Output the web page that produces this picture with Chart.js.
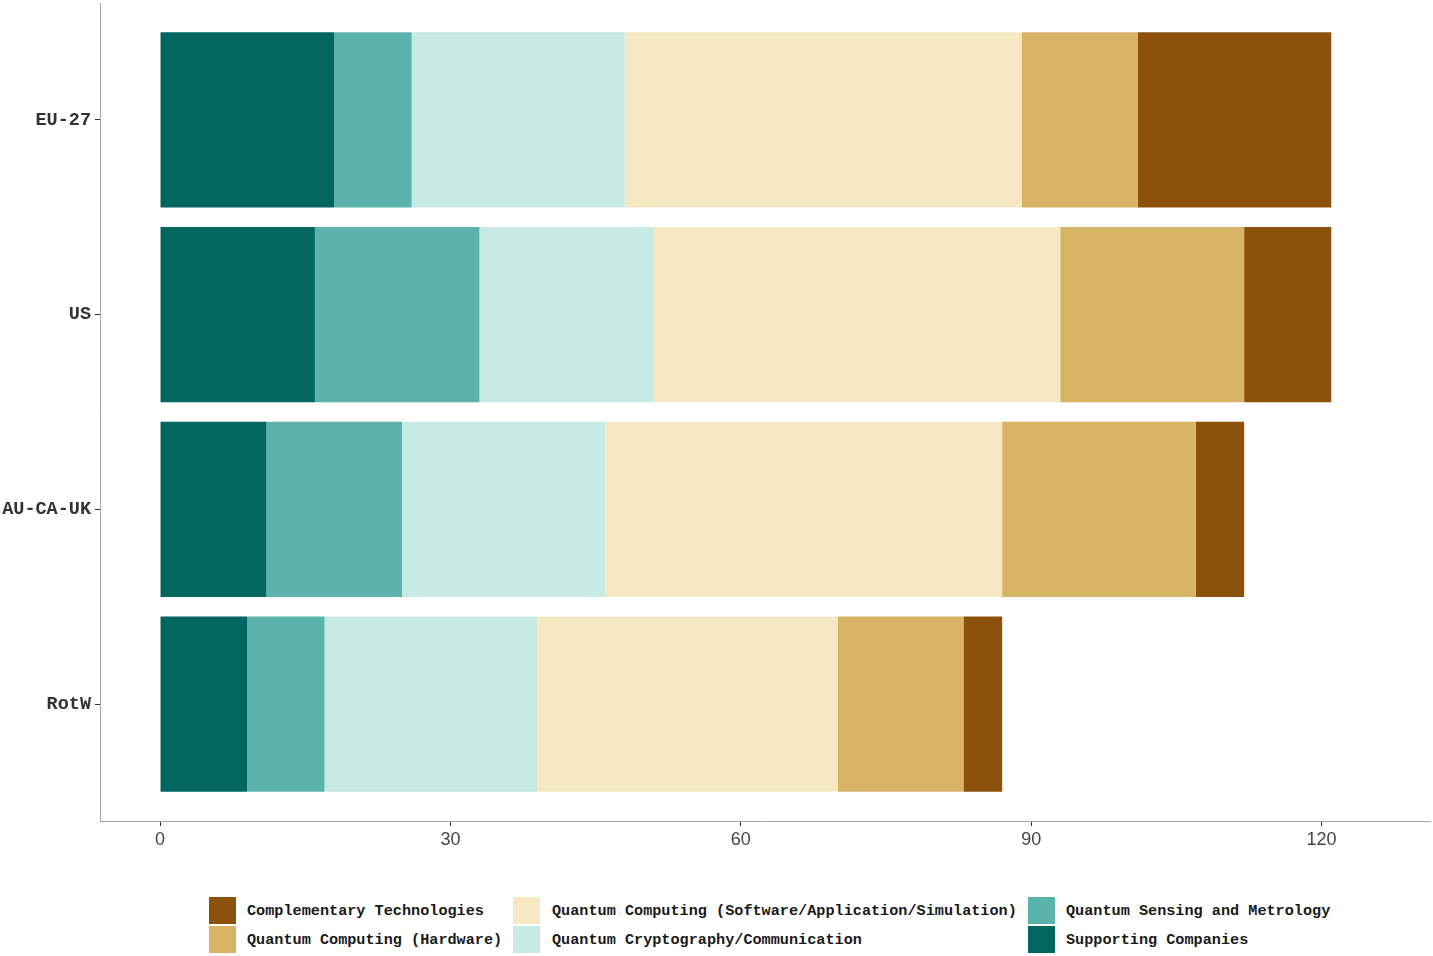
<!DOCTYPE html>
<html>
<head>
<meta charset="utf-8">
<script src="https://cdn.jsdelivr.net/npm/chart.js@4/dist/chart.umd.min.js"></script>
<style>
  body { margin: 0; background: #fff; }
  #wrap { position: absolute; left: 0; top: 0; width: 1433px; height: 870px; }
  #legend { position: absolute; left: 0; top: 896px; width: 1433px; height: 60px;
            font-family: "Liberation Mono", monospace; font-weight: bold; font-size: 15.2px; color: #1a1a1a; }
  .item { position: absolute; height: 27px; line-height: 27px; white-space: nowrap; }
  .key { position: absolute; left: 0; top: 0; width: 27px; height: 27px; }
  .lbl { position: absolute; top: 1px; }
</style>
</head>
<body>
<div id="wrap"><canvas id="chart"></canvas></div>
<div id="legend"></div>
<script>
// regions, top to bottom
var categories = ['EU-27', 'US', 'AU-CA-UK', 'RotW'];

// series, in stacking order (left to right)
var supporting    = [18, 16, 11, 9];
var sensing       = [8, 17, 14, 8];
var cryptography  = [22, 18, 21, 22];
var software      = [41, 42, 41, 31];
var hardware      = [12, 19, 20, 13];
var complementary = [20, 9, 5, 4];

var xTicks = [0, 30, 60, 90, 120];

var series = [
  { label: 'Supporting Companies', data: supporting, color: '#01665e' },
  { label: 'Quantum Sensing and Metrology', data: sensing, color: '#5ab4ac' },
  { label: 'Quantum Cryptography/Communication', data: cryptography, color: '#c7eae5' },
  { label: 'Quantum Computing (Software/Application/Simulation)', data: software, color: '#f6e8c3' },
  { label: 'Quantum Computing (Hardware)', data: hardware, color: '#d8b365' },
  { label: 'Complementary Technologies', data: complementary, color: '#8c510a' }
];

var datasets = series.map(function (s) {
  return {
    label: s.label,
    data: s.data.map(function (v, i) { return { x: v, y: i + 1 }; }),
    backgroundColor: s.color,
    borderWidth: 0,
    barPercentage: 0.9,
    categoryPercentage: 1
  };
});

var ctx = document.getElementById('chart');
var chart = new Chart(ctx, {
  type: 'bar',
  data: { datasets: datasets },
  options: {
    indexAxis: 'y',
    responsive: true,
    maintainAspectRatio: false,
    animation: false,
    layout: { padding: { top: 3, right: 3, left: 0, bottom: 0 } },
    plugins: { legend: { display: false }, tooltip: { enabled: false } },
    scales: {
      x: {
        type: 'linear',
        stacked: true,
        min: -6.2,
        max: 131.2,
        afterBuildTicks: function (s) { s.ticks = xTicks.map(function (v) { return { value: v }; }); },
        afterFit: function (s) { s.height = 49; s.paddingLeft = 0; s.paddingRight = 0; },
        grid: { drawOnChartArea: false, drawTicks: true, tickLength: 5, tickColor: '#333', tickWidth: 1 },
        border: { display: true, color: '#a6a6a6', width: 1 },
        ticks: { padding: 3, color: '#444', font: { family: 'Liberation Sans', size: 18 } }
      },
      y: {
        type: 'linear',
        stacked: true,
        reverse: true,
        offset: false,
        min: 0.4,
        max: 4.6,
        afterBuildTicks: function (s) { s.ticks = categories.map(function (c, i) { return { value: i + 1 }; }); },
        afterFit: function (s) { s.width = 100; s.paddingTop = 0; s.paddingBottom = 0; },
        grid: { offset: false, drawOnChartArea: false, drawTicks: true, tickLength: 5, tickColor: '#333', tickWidth: 1 },
        border: { display: true, color: '#a6a6a6', width: 1 },
        ticks: {
          autoSkip: false,
          padding: 4,
          color: '#333',
          font: { family: 'Liberation Mono', size: 18.5, weight: 'bold' },
          callback: function (v) { return categories[v - 1]; }
        }
      }
    }
  }
});

// legend: reverse stacking order, filled column by column, two rows
var legend = document.getElementById('legend');
var colLeft = [209, 513, 1028];
var ordered = series.slice().reverse();
ordered.forEach(function (s, i) {
  var col = Math.floor(i / 2), row = i % 2;
  var item = document.createElement('div');
  item.className = 'item';
  item.style.left = colLeft[col] + 'px';
  item.style.top = (row * 29 + 1) + 'px';
  var key = document.createElement('div');
  key.className = 'key';
  key.style.background = s.color;
  var lbl = document.createElement('div');
  lbl.className = 'lbl';
  lbl.style.left = (col === 1 ? 39 : 38) + 'px';
  lbl.textContent = s.label;
  item.appendChild(key);
  item.appendChild(lbl);
  legend.appendChild(item);
});
</script>
</body>
</html>
